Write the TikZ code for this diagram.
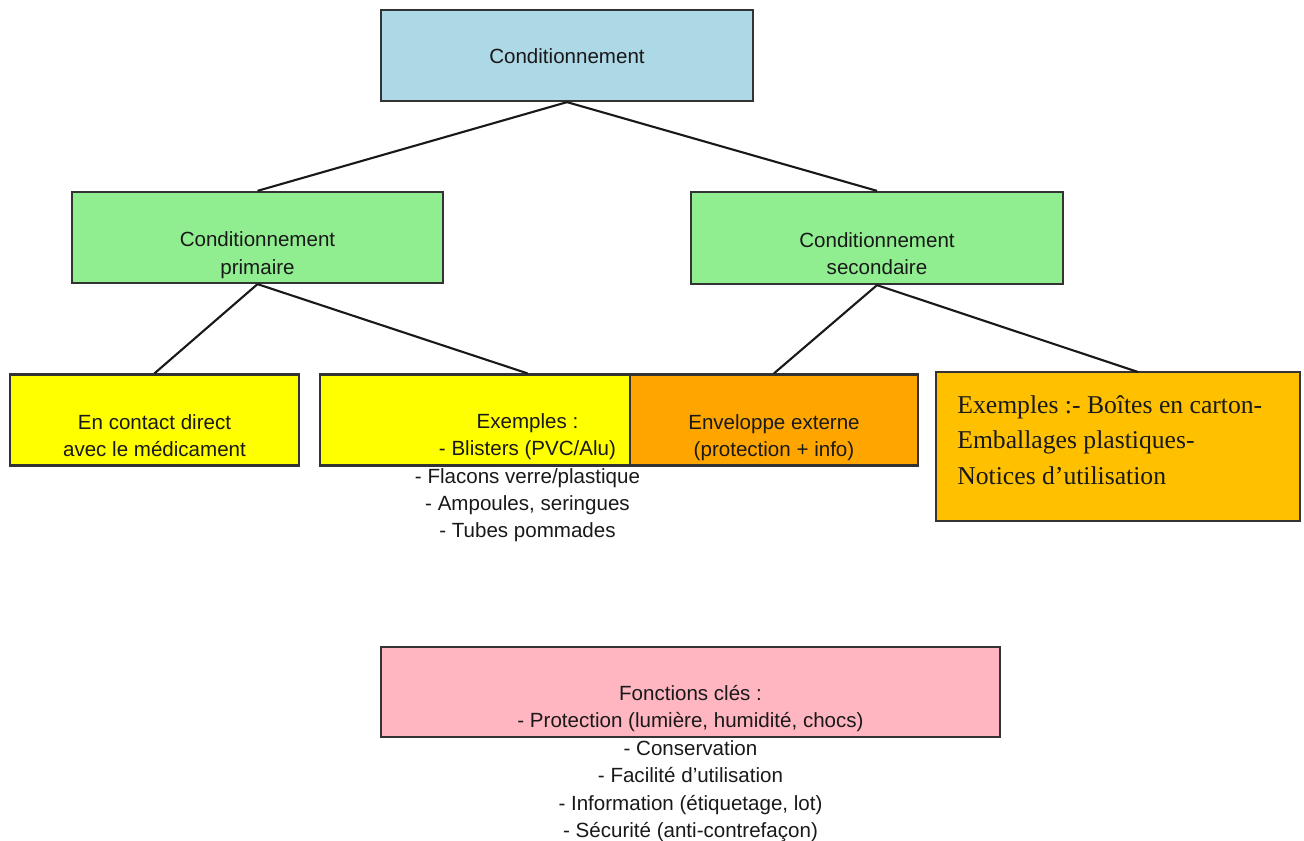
\documentclass[tikz,border=0pt]{standalone}
\usepackage{fontspec}
\setmainfont{Liberation Sans}
\newfontfamily\timesfont{Liberation Serif}
\usetikzlibrary{
	positioning
}
\definecolor{bleuclair}{RGB}{173,216,230}
\definecolor{vertclair}{RGB}{144,238,144}
\definecolor{jaune}{RGB}{255,255,0}
\definecolor{orange1}{RGB}{255,165,0}
\definecolor{orange2}{RGB}{255,192,0}
\definecolor{rose}{RGB}{255,182,193}
\tikzset{
	box/.style={
		draw=black!80,
		line width=1.3pt,
		inner sep=0pt
	},
	boxtext/.style={
		align=center,
		inner sep=0pt,
		anchor=north,
		text=black!90,
		font=\fontsize{11.7}{15.6}\selectfont
	},
	link/.style={
		line width=1.2pt,
		black!90
	}
}

\begin{document}
\begin{tikzpicture}[x=0.02cm,y=-0.02cm] %%%% CONDITIONNEMENT
		\useasboundingbox[fill=white] (0,0) rectangle (1304,841);
		% boites
		\node[box, fill=bleuclair, minimum width=7.44cm, minimum height=1.82cm] (cond) at (567,55.5) {};
		\node[box, fill=vertclair, minimum width=7.42cm, minimum height=1.82cm] (prim) at (257.5,237.5) {};
		\node[box, fill=vertclair, minimum width=7.44cm, minimum height=1.84cm] (sec) at (877,238) {};
		\node[box, fill=jaune, minimum width=5.78cm, minimum height=1.82cm] (contact) at (154.5,420) {};
		\node[box, fill=jaune, minimum width=8.30cm, minimum height=1.82cm] (exprim) at (527.5,420) {};
		\node[box, fill=orange1, minimum width=5.76cm, minimum height=1.82cm] (env) at (774,420) {};
		\node[box, fill=orange2, minimum width=7.28cm, minimum height=2.98cm] (exsec) at (1118,446.5) {};
		\node[box, fill=rose, minimum width=12.38cm, minimum height=1.80cm] (fonc) at (690.5,692) {};
		\coordinate (exsecin) at (1138,372);
		% liens
		\draw[link] (cond.south) -- (prim.north);
		\draw[link] (cond.south) -- (sec.north);
		\draw[link] (prim.south) -- (contact.north);
		\draw[link] (prim.south) -- (exprim.north);
		\draw[link] (sec.south) -- (env.north);
		\draw[link] (sec.south) -- (exsecin);
		% textes
		\node[boxtext] (tcond) at ([yshift=0.14cm]cond.center) {Conditionnement};
		\node[boxtext] (tprim) at ([yshift=0.12cm]prim.center) {Conditionnement\\primaire};
		\node[boxtext] (tsec) at ([yshift=0.12cm]sec.center) {Conditionnement\\secondaire};
		\node[boxtext] (tcontact) at ([yshift=0.12cm]contact.center) {En contact direct\\avec le médicament};
		\node[boxtext] (texprim) at ([yshift=0.14cm]exprim.center) {Exemples :\\- Blisters (PVC/Alu)\\- Flacons verre/plastique\\- Ampoules, seringues\\- Tubes pommades};
		\node[boxtext] (tenv) at ([yshift=0.12cm]env.center) {Enveloppe externe\\(protection + info)};
		\node[boxtext, align=left, anchor=north west, font=\timesfont\fontsize{14.6}{20.2}\selectfont] (texsec) at (957,395) {Exemples :- Boîtes en carton-\\Emballages plastiques-\\Notices d’utilisation};
		\node[boxtext] (tfonc) at ([yshift=0.14cm]fonc.center) {Fonctions clés :\\- Protection (lumière, humidité, chocs)\\- Conservation\\- Facilité d’utilisation\\- Information (étiquetage, lot)\\- Sécurité (anti-contrefaçon)};
	\end{tikzpicture}
\end{document}
